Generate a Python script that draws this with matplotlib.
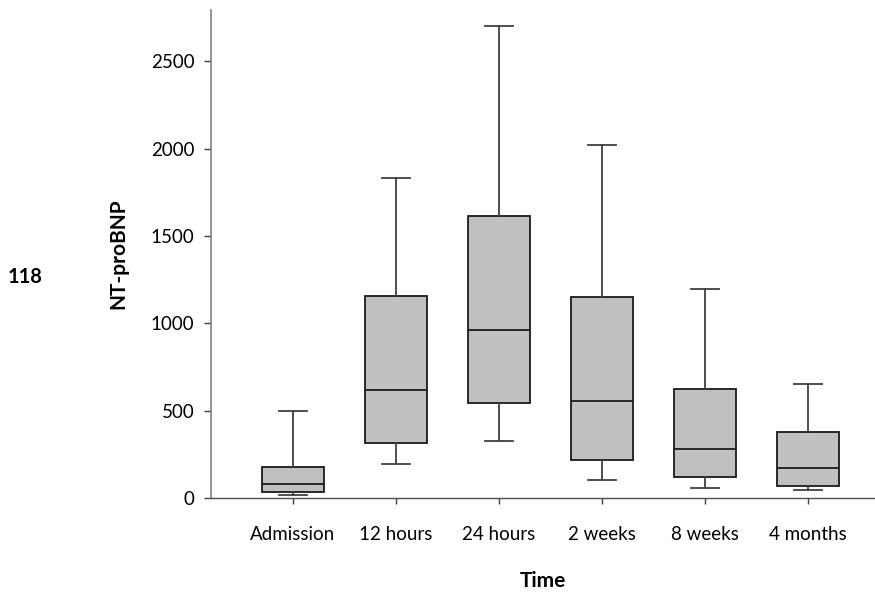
import matplotlib
matplotlib.use("Agg")
import matplotlib.pyplot as plt

plt.rcParams['font.family'] = ['Lato', 'DejaVu Sans']

# data (box plot summary stats)
labels = ["Admission", "12 hours", "24 hours", "2 weeks", "8 weeks", "4 months"]
whislo = [19, 196, 328, 105, 59, 46]
q1 = [36, 317, 546, 219, 120, 69]
med = [78, 620, 963, 555, 282, 172]
q3 = [176, 1158, 1614, 1149, 624, 378]
whishi = [500, 1830, 2704, 2023, 1196, 654]

stats = []
for i in range(len(labels)):
    stats.append(dict(label=labels[i], whislo=whislo[i], q1=q1[i], med=med[i],
                      q3=q3[i], whishi=whishi[i], fliers=[]))

fig = plt.figure(figsize=(8.75, 5.92), dpi=100)
ax = fig.add_axes([211 / 875, 1 - 498 / 592, 1 - 211 / 875, 488 / 592])

ax.bxp(stats, widths=0.6, patch_artist=True, showfliers=False, capwidths=0.27,
       boxprops=dict(facecolor="#c0c0c0", edgecolor="#1a1a1a", linewidth=1.3),
       medianprops=dict(color="#1a1a1a", linewidth=1.3),
       whiskerprops=dict(color="#404040", linewidth=1.3),
       capprops=dict(color="#404040", linewidth=1.3))

ax.set_ylim(0, 2793)
ax.set_xlim(0.207, 6.653)
ax.set_yticks([0, 500, 1000, 1500, 2000, 2500])

ax.spines['top'].set_visible(False)
ax.spines['right'].set_visible(False)
ax.spines['left'].set_color("#808080")
ax.spines['bottom'].set_color("#505050")
ax.spines['left'].set_linewidth(1.2)
ax.spines['bottom'].set_linewidth(1.0)

ax.tick_params(axis='y', length=5, width=1, color="#404040", labelsize=13.5, pad=7)
ax.tick_params(axis='x', length=4.5, width=1, color="#404040", labelsize=13.5, pad=16)

ax.set_ylabel("NT-proBNP", fontsize=15, fontweight='bold', labelpad=16)
ax.set_xlabel("Time", fontsize=15, fontweight='bold', labelpad=20)

fig.text(8 / 875, 1 - 277 / 592, "118", fontsize=14.5, fontweight='bold', va='center', ha='left')

fig.savefig("out.png", dpi=100)
